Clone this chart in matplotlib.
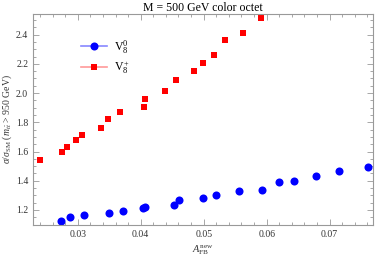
import matplotlib
matplotlib.use("Agg")
import matplotlib.pyplot as plt
from matplotlib.ticker import MultipleLocator, FuncFormatter
from matplotlib.lines import Line2D

# data
afb_v0 = [0.02738, 0.02873, 0.03100, 0.03489, 0.03722, 0.04032, 0.04073, 0.04521, 0.04603,
          0.04989, 0.05190, 0.05568, 0.05925, 0.06198, 0.06437, 0.06790, 0.07148, 0.07603]
sig_v0 = [1.127, 1.151, 1.165, 1.180, 1.190, 1.214, 1.223, 1.234, 1.269,
          1.284, 1.301, 1.332, 1.336, 1.390, 1.399, 1.433, 1.467, 1.492]

afb_vp = [0.02397, 0.02751, 0.02825, 0.02968, 0.03063, 0.03365, 0.03481, 0.03671, 0.04050,
          0.04070, 0.04386, 0.04565, 0.04841, 0.04984, 0.05163, 0.05333, 0.05619, 0.05910]
sig_vp = [1.542, 1.599, 1.631, 1.679, 1.713, 1.763, 1.823, 1.871, 1.905,
          1.958, 2.017, 2.090, 2.152, 2.206, 2.263, 2.366, 2.414, 2.516]

labels = [r"$\mathrm{V}_8^0$", r"$\mathrm{V}_8^+$"]
title = "M = 500 GeV color octet"
xlabel = r"$A_{\mathrm{FB}}^{\mathrm{new}}$"
ylabel = r"$\sigma/\sigma_{\mathrm{SM}}$ $(m_{t\bar{t}}$ > 950 GeV)"

plt.rcParams['font.family'] = ['Liberation Serif', 'DejaVu Serif']
plt.rcParams['mathtext.fontset'] = 'custom'
plt.rcParams['mathtext.rm'] = 'Liberation Serif'
plt.rcParams['mathtext.it'] = 'Liberation Serif:italic'

fig = plt.figure(figsize=(3.76, 2.58), dpi=100)
ax = fig.add_axes([0.0878, 0.128, 0.904, 0.818])

ax.plot(afb_v0, sig_v0, 'o', color='#0000ff', markersize=5.8, markeredgewidth=0)
ax.plot(afb_vp, sig_vp, 's', color='#ff0000', markersize=5.0, markeredgewidth=0)

ax.set_xlim(0.0229, 0.07687)
ax.set_ylim(1.097, 2.542)

ax.xaxis.set_major_locator(MultipleLocator(0.01))
ax.xaxis.set_minor_locator(MultipleLocator(0.002))
ax.yaxis.set_major_locator(MultipleLocator(0.2))
ax.yaxis.set_minor_locator(MultipleLocator(0.05))
ax.xaxis.set_major_formatter(FuncFormatter(lambda v, p: f"{v:.2f}"))
ax.yaxis.set_major_formatter(FuncFormatter(lambda v, p: f"{v:.1f}"))

gray = '#999999'
for s in ax.spines.values():
    s.set_color(gray)
    s.set_linewidth(0.8)
ax.tick_params(which='both', direction='in', top=True, right=True, color=gray,
               labelsize=7, labelcolor='#333333', width=0.6)
ax.tick_params(which='major', length=4, pad=3.5)
ax.tick_params(which='minor', length=2)

ax.set_title(title, fontsize=8.5, pad=2)
ax.set_xlabel(xlabel, fontsize=7.5, color='#333333')
ax.xaxis.set_label_coords(0.5, -0.085)
ax.set_ylabel(ylabel, fontsize=7, color='#333333')
ax.yaxis.set_label_coords(-0.056, 0.5)

handles = [
    Line2D([0], [0], color='#8888ff', lw=1.2, marker='o', markersize=5.8,
           markerfacecolor='#0000ff', markeredgewidth=0),
    Line2D([0], [0], color='#ff9999', lw=1.2, marker='s', markersize=5.0,
           markerfacecolor='#ff0000', markeredgewidth=0),
]
ax.legend(handles, labels, loc='upper left', bbox_to_anchor=(0.11, 0.935), frameon=False,
          fontsize=8.5, handlelength=2.2, labelspacing=0.3, handletextpad=0.6)

fig.savefig("out.png", dpi=100)
